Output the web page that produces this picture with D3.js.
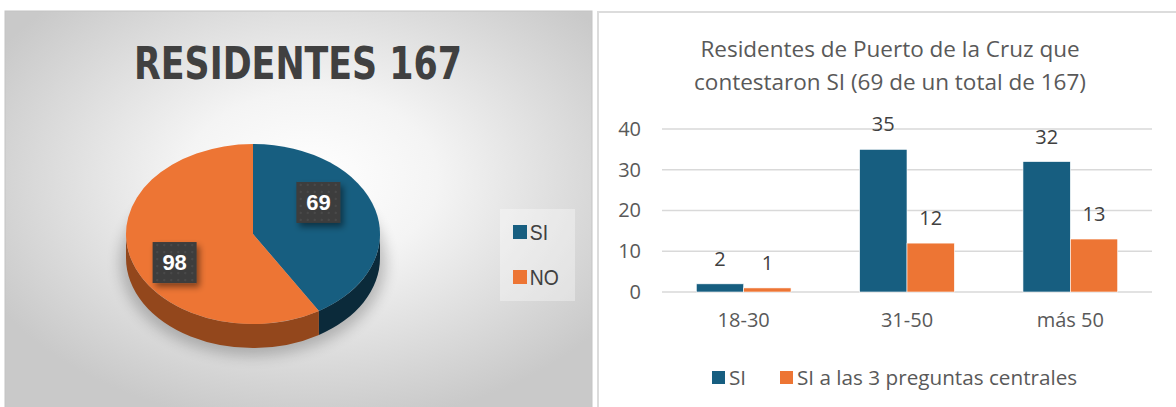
<!DOCTYPE html>
<html>
<head>
<meta charset="utf-8">
<script src="https://cdn.jsdelivr.net/npm/d3@7"></script>
<style>
  body { margin: 0; background: #fff; }
  svg { display: block; }
</style>
</head>
<body>
<svg id="chart" width="1176" height="407"></svg>
<script>
// pie data
let pieLabels = ["SI", "NO"];
let pieValues = [69, 98];
let pieTitle = "RESIDENTES 167";

// bar data
let categories = ["18-30", "31-50", "más 50"];
let seriesNames = ["SI", "SI a las 3 preguntas centrales"];
let siValues = [2, 35, 32];
let si3Values = [1, 12, 13];
let yTicks = [0, 10, 20, 30, 40];
let barTitle = ["Residentes de Puerto de la Cruz que", "contestaron SI (69 de un total de 167)"];

let blue = "#175e80";
let orange = "#ed7534";

let svg = d3.select("#chart");
let defs = svg.append("defs");

// ---------- left panel ----------
let bg = defs.append("radialGradient").attr("id", "bgGrad")
    .attr("cx", "52%").attr("cy", "42%").attr("r", "62%");
bg.append("stop").attr("offset", "0%").attr("stop-color", "#ffffff");
bg.append("stop").attr("offset", "35%").attr("stop-color", "#f4f4f4");
bg.append("stop").attr("offset", "100%").attr("stop-color", "#c9c9c9");

svg.append("rect")
    .attr("x", 5).attr("y", 11).attr("width", 587).attr("height", 400)
    .attr("fill", "url(#bgGrad)")
    .attr("stroke", "#c4c4c4").attr("stroke-width", 1);

let narrow = "'Liberation Sans Narrow', 'DejaVu Sans Condensed', sans-serif";

svg.append("text")
    .attr("x", 298).attr("y", 79)
    .attr("text-anchor", "middle")
    .attr("textLength", 328).attr("lengthAdjust", "spacingAndGlyphs")
    .style("font-family", narrow)
    .style("font-weight", "bold")
    .style("font-size", "45px")
    .attr("fill", "#404040")
    .text(pieTitle);

let cx = 253, cy = 234, rx = 127, ry = 90, thick = 24;
let sy = ry / rx;

let blur = defs.append("filter").attr("id", "blur")
    .attr("x", "-30%").attr("y", "-30%").attr("width", "160%").attr("height", "160%");
blur.append("feGaussianBlur").attr("stdDeviation", 7);

let shadow = defs.append("filter").attr("id", "boxShadow")
    .attr("x", "-30%").attr("y", "-30%").attr("width", "170%").attr("height", "170%");
shadow.append("feDropShadow").attr("dx", 3).attr("dy", 4).attr("stdDeviation", 3)
    .attr("flood-color", "#000").attr("flood-opacity", 0.45);

let sideGrad = defs.append("linearGradient").attr("id", "sideGrad")
    .attr("gradientUnits", "userSpaceOnUse")
    .attr("x1", cx - rx).attr("x2", cx + rx).attr("y1", 0).attr("y2", 0);
sideGrad.append("stop").attr("offset", "0%").attr("stop-color", "#93471c");
sideGrad.append("stop").attr("offset", "45%").attr("stop-color", "#652e13");
sideGrad.append("stop").attr("offset", "100%").attr("stop-color", "#552510");

let pat = defs.append("pattern").attr("id", "dots")
    .attr("patternUnits", "userSpaceOnUse").attr("width", 7).attr("height", 7);
pat.append("rect").attr("width", 7).attr("height", 7).attr("fill", "#3d3d3d");
pat.append("circle").attr("cx", 3.5).attr("cy", 3.5).attr("r", 0.8).attr("fill", "#5c5c5c");

// shadow under the pie
svg.append("ellipse")
    .attr("cx", cx).attr("cy", cy + thick + 4)
    .attr("rx", rx + 6).attr("ry", ry + 4)
    .attr("fill", "#000").attr("opacity", 0.22)
    .attr("filter", "url(#blur)");

let pie = d3.pie().sort(null).value(d => d);
let arcs = pie(pieValues);

let pieG = svg.append("g")
    .attr("transform", `translate(${cx},${cy}) scale(1,${sy})`);

let sideColors = ["#0b2a3a", "url(#sideGrad)"];
let h = thick / sy;

function sidePath(a0, a1) {
    let s = Math.max(a0, Math.PI / 2);
    let e = Math.min(a1, Math.PI * 1.5);
    if (s >= e) return null;
    let p = d3.path();
    p.arc(0, 0, rx, s - Math.PI / 2, e - Math.PI / 2);
    p.arc(0, h, rx, e - Math.PI / 2, s - Math.PI / 2, true);
    p.closePath();
    return p.toString();
}

pieG.selectAll("path.side")
    .data(arcs)
    .join("path")
    .attr("class", "side")
    .attr("d", d => sidePath(d.startAngle, d.endAngle))
    .attr("fill", (d, i) => sideColors[i]);

let arc = d3.arc().innerRadius(0).outerRadius(rx);
pieG.selectAll("path.top")
    .data(arcs)
    .join("path")
    .attr("class", "top")
    .attr("d", arc)
    .attr("fill", (d, i) => [blue, orange][i]);

// data labels
let labelArc = d3.arc().innerRadius(rx * 0.6).outerRadius(rx * 0.6);
let labelShift = [[-8, -17], [-5, 14]];
let lab = svg.append("g").selectAll("g")
    .data(arcs)
    .join("g")
    .attr("transform", (d, i) => {
        let c = labelArc.centroid(d);
        return `translate(${cx + c[0] + labelShift[i][0]},${cy + c[1] * sy + labelShift[i][1]})`;
    });
lab.append("rect")
    .attr("x", -22).attr("y", -20.5).attr("width", 44).attr("height", 41)
    .attr("fill", "url(#dots)")
    .attr("filter", "url(#boxShadow)");
lab.append("text")
    .attr("text-anchor", "middle").attr("dy", "0.36em")
    .style("font-family", "'Liberation Sans', Arial, sans-serif")
    .style("font-weight", "bold").style("font-size", "22px")
    .attr("fill", "#fff")
    .text(d => d.data);

// left legend
svg.append("rect")
    .attr("x", 500).attr("y", 209).attr("width", 75).attr("height", 92)
    .attr("fill", "#ffffff").attr("opacity", 0.35);
let pieLegend = svg.append("g").selectAll("g")
    .data(pieLabels)
    .join("g")
    .attr("transform", (d, i) => `translate(513,${225 + i * 45})`);
pieLegend.append("rect").attr("width", 14).attr("height", 14)
    .attr("fill", (d, i) => [blue, orange][i]);
pieLegend.append("text")
    .attr("x", 19).attr("y", 7).attr("dy", "0.36em")
    .attr("transform", "scale(0.88,1)")
    .style("font-family", "'Liberation Sans', sans-serif")
    .style("font-size", "22px")
    .attr("fill", "#404040")
    .text(d => d);

// ---------- right panel ----------
svg.append("path")
    .attr("d", "M598,407V12H1176")
    .attr("fill", "none").attr("stroke", "#dcdcdc").attr("stroke-width", 2);

let font = "'Open Sans', 'Noto Sans', sans-serif";

svg.append("g").selectAll("text")
    .data(barTitle)
    .join("text")
    .attr("x", 890).attr("y", (d, i) => 57 + i * 33)
    .attr("text-anchor", "middle")
    .style("font-family", font).style("font-size", "22.5px")
    .attr("fill", "#595959")
    .text(d => d);

let margin = { left: 662, right: 1152, top: 129, bottom: 292 };
let x0 = d3.scaleBand().domain(categories).range([margin.left, margin.right])
    .paddingInner(0.42).paddingOuter(0.21);
let x1 = d3.scaleBand().domain(seriesNames).range([0, x0.bandwidth()]);
let y = d3.scaleLinear().domain([0, 40]).range([margin.bottom, margin.top]);

// gridlines
svg.append("g").selectAll("line")
    .data(yTicks)
    .join("line")
    .attr("x1", margin.left).attr("x2", margin.right)
    .attr("y1", d => y(d)).attr("y2", d => y(d))
    .attr("stroke", "#d9d9d9").attr("stroke-width", 1.5);

// y axis labels
let yAxis = svg.append("g")
    .attr("transform", `translate(${margin.left - 21},0)`)
    .call(d3.axisLeft(y).tickValues(yTicks).tickSize(0).tickPadding(0));
yAxis.select(".domain").remove();
yAxis.selectAll("text")
    .style("font-family", font).style("font-size", "20px").attr("fill", "#595959");

// x axis labels
let xAxis = svg.append("g")
    .attr("transform", `translate(0,${margin.bottom + 21})`)
    .call(d3.axisBottom(x0).tickSize(0).tickPadding(0));
xAxis.select(".domain").remove();
xAxis.selectAll("text")
    .style("font-family", font).style("font-size", "20px").attr("fill", "#595959");

let series = [siValues, si3Values];
let groups = svg.append("g").selectAll("g")
    .data(categories)
    .join("g")
    .attr("transform", d => `translate(${x0(d)},0)`);

let cells = groups.selectAll("g")
    .data((c, ci) => seriesNames.map((s, si) => ({ s, si, v: series[si][ci] })))
    .join("g");

cells.append("rect")
    .attr("x", d => x1(d.s))
    .attr("y", d => y(d.v))
    .attr("width", x1.bandwidth())
    .attr("height", d => y(0) - y(d.v))
    .attr("fill", d => [blue, orange][d.si])
    .attr("stroke", "#fff").attr("stroke-width", 0.6);

cells.append("text")
    .attr("x", d => x1(d.s) + x1.bandwidth() / 2)
    .attr("y", d => y(d.v) - 18)
    .attr("text-anchor", "middle")
    .style("font-family", font).style("font-size", "20px")
    .attr("fill", "#404040")
    .text(d => d.v);

// bottom legend
let legendX = [712, 780];
let bl = svg.append("g").selectAll("g")
    .data(seriesNames)
    .join("g")
    .attr("transform", (d, i) => `translate(${legendX[i]},371)`);
bl.append("rect").attr("width", 13).attr("height", 13)
    .attr("fill", (d, i) => [blue, orange][i]);
bl.append("text")
    .attr("x", 17).attr("y", 7).attr("dy", "0.36em")
    .style("font-family", font).style("font-size", "20.7px")
    .attr("fill", "#595959")
    .text(d => d);
</script>
</body>
</html>
